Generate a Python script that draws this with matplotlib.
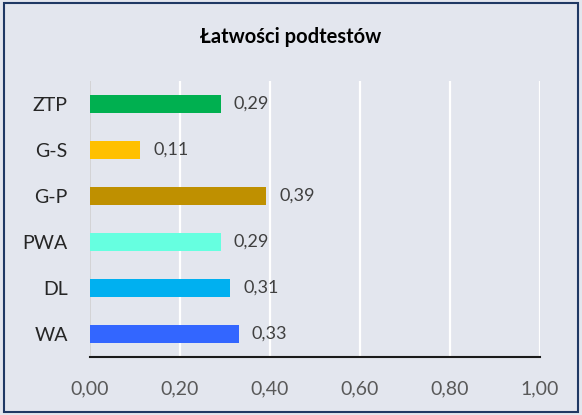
import matplotlib.pyplot as plt
from matplotlib.patches import Rectangle

categories = ["ZTP", "G-S", "G-P", "PWA", "DL", "WA"]
values = [0.29, 0.11, 0.39, 0.29, 0.31, 0.33]
colors = ["#00B050", "#FFC000", "#BF9000", "#66FFE0", "#00B0F0", "#3366FF"]
xticks = [0.0, 0.2, 0.4, 0.6, 0.8, 1.0]
title = "Łatwości podtestów"

plt.rcParams["font.family"] = ["Lato", "DejaVu Sans"]

bg = "#E3E6EE"
fig = plt.figure(figsize=(5.82, 4.15), dpi=100, facecolor=bg)
ax = fig.add_axes([90 / 582, 1 - 357 / 415, 450 / 582, 276 / 415])
ax.set_facecolor(bg)

# border around the whole chart
fig.patches.append(Rectangle((4 / 582, 3 / 415), 574 / 582, 409 / 415,
                             transform=fig.transFigure, fill=False,
                             edgecolor="#1F3864", linewidth=1.5))

y = list(range(len(categories)))[::-1]
ax.barh(y, values, height=0.41, color=colors, zorder=3)

for yi, v in zip(y, values):
    ax.text(v + 0.03, yi, f"{v:.2f}".replace(".", ","), va="center", ha="left",
            fontsize=13, color="#404040")

ax.set_xlim(0, 1)
ax.set_ylim(-0.5, len(categories) - 0.5)
ax.set_xticks(xticks)
ax.set_xticklabels([f"{t:.2f}".replace(".", ",") for t in xticks],
                   fontsize=14, color="#595959")
ax.set_yticks(y)
ax.set_yticklabels(categories, fontsize=14, color="#262626")
ax.tick_params(length=0)
ax.tick_params(axis="x", pad=17)
ax.tick_params(axis="y", pad=16)

for t in xticks[1:]:
    ax.axvline(t, color="white", linewidth=1.6, zorder=1)
ax.axvline(0, color="#D0D0D0", linewidth=1.2, zorder=1)

for s in ["top", "right", "left"]:
    ax.spines[s].set_visible(False)
ax.spines["bottom"].set_color("#1A1A1A")
ax.spines["bottom"].set_linewidth(1.5)

fig.text(0.5, 1 - 37 / 415, title, ha="center", va="center",
         fontsize=14.5, fontweight="bold", color="#000000")

fig.savefig("out.png", dpi=100, facecolor=bg)
